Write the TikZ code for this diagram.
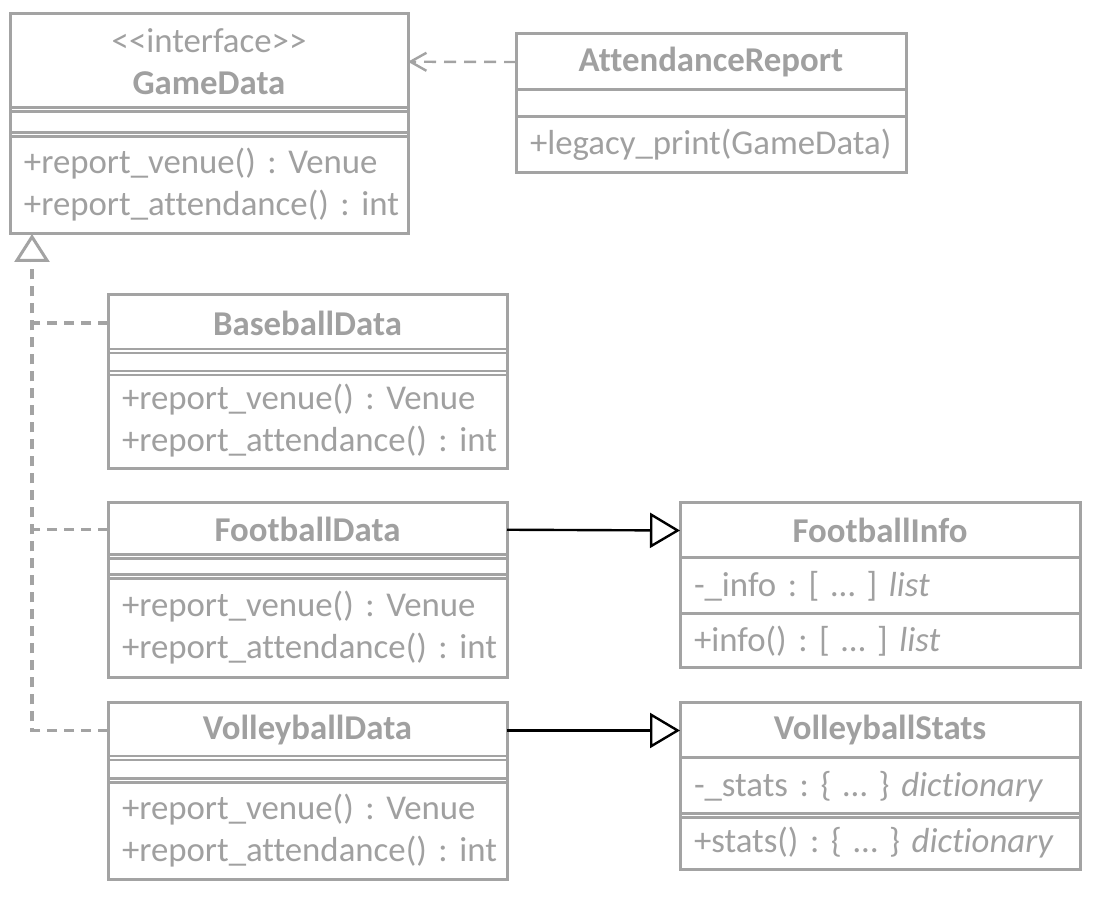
\documentclass[tikz,border=0pt]{standalone}
\usepackage{fontspec}
\setmainfont{Carlito}[Ligatures=NoCommon]
\usetikzlibrary{positioning, arrows.meta}

\definecolor{umlgray}{RGB}{163,163,163}
\definecolor{umltext}{RGB}{160,160,160}
\newcommand{\umlfont}{\fontsize{17.4pt}{21pt}\selectfont}
\frenchspacing

\begin{document}
\begin{tikzpicture}[
    x=0.5pt, y=-0.5pt,
    part/.style={
        draw=umlgray, line width=1.5pt, fill=white, outer sep=0pt,
        inner xsep=7pt, inner ysep=0pt, text=umltext, font=\umlfont
    },
    head/.style={part, font=\umlfont\bfseries},
    members/.style={part, align=left, text width=#1},
    sepline/.style={
        draw=umlgray, line width=1.2pt, double=white, double distance=0.8pt,
        shorten <=0.75pt, shorten >=0.75pt
    },
    dashline/.style={draw=umlgray, line width=1.6pt, dash pattern=on 5pt off 3.5pt},
    realizes/.style={dashline, -{Triangle[open, length=14pt, width=17.5pt, line width=1.5pt]}},
    depends/.style={
        draw=umlgray, line width=1.2pt, dash pattern=on 6pt off 4pt,
        -{Straight Barb[length=8pt, width=9pt, line width=1.2pt]}
    },
    extends/.style={draw=black, line width=1.2pt, -{Triangle[open, length=15pt, width=17.5pt]}}
]

\fill[white] (0,0) rectangle (1100,903);
\useasboundingbox (0,0) rectangle (1100,903);

% -------------------------
% Classes
% -------------------------

% 1. GameData (interface, top left)
\node[part, minimum width=199pt, minimum height=47.75pt, anchor=north west, align=center] (gamedata) at (10,14)
    {\textless\kern0pt\textless interface\textgreater\kern0pt\textgreater\\ \textbf{GameData}};
\node[part, minimum width=199pt, minimum height=12.5pt, below=0pt of gamedata] (gamedata-attr) {};
\node[members=185pt, minimum height=49.75pt, below=0pt of gamedata-attr] (gamedata-ops)
    {+report\_venue()~:~Venue\\+report\_attendance()~:~int};

% 2. AttendanceReport (top right)
\node[head, minimum width=195pt, minimum height=28pt, anchor=north west] (report) at (516,34) {AttendanceReport};
\node[part, minimum width=195pt, minimum height=13.5pt, below=0pt of report] (report-attr) {};
\node[members=181pt, minimum height=28pt, below=0pt of report-attr] (report-ops) {+legacy\_print(GameData)};

% 3. BaseballData
\node[head, minimum width=199.5pt, minimum height=28pt, anchor=north west] (baseball) at (108,295) {BaseballData};
\node[part, minimum width=199.5pt, minimum height=11pt, below=0pt of baseball] (baseball-attr) {};
\node[members=185.5pt, minimum height=48pt, below=0pt of baseball-attr] (baseball-ops)
    {+report\_venue()~:~Venue\\+report\_attendance()~:~int};

% 4. FootballData
\node[head, minimum width=199.5pt, minimum height=26.75pt, anchor=north west] (football) at (108,503) {FootballData};
\node[part, minimum width=199.5pt, minimum height=10pt, below=0pt of football] (football-attr) {};
\node[members=185.5pt, minimum height=50.75pt, below=0pt of football-attr] (football-ops)
    {+report\_venue()~:~Venue\\+report\_attendance()~:~int};

% 5. VolleyballData
\node[head, minimum width=199.5pt, minimum height=27.5pt, anchor=north west] (volleyball) at (108,703) {VolleyballData};
\node[part, minimum width=199.5pt, minimum height=11.25pt, below=0pt of volleyball] (volleyball-attr) {};
\node[members=185.5pt, minimum height=49.75pt, below=0pt of volleyball-attr] (volleyball-ops)
    {+report\_venue()~:~Venue\\+report\_attendance()~:~int};

% 6. FootballInfo
\node[head, minimum width=200pt, minimum height=27.5pt, anchor=north west] (footballinfo) at (680,503) {FootballInfo};
\node[members=186pt, minimum height=28pt, below=0pt of footballinfo] (footballinfo-attr)
    {-\_info~:~[~…~]~\textit{list}};
\node[members=186pt, minimum height=27pt, below=0pt of footballinfo-attr] (footballinfo-ops)
    {+info()~:~[~…~]~\textit{list}};

% 7. VolleyballStats
\node[head, minimum width=200pt, minimum height=27.5pt, anchor=north west] (volleystats) at (680,703) {VolleyballStats};
\node[members=186pt, minimum height=28.75pt, below=0pt of volleystats] (volleystats-attr)
    {-\_stats~:~\{~…~\}~\textit{dictionary}};
\node[members=186pt, minimum height=27.25pt, below=0pt of volleystats-attr] (volleystats-ops)
    {+stats()~:~\{~…~\}~\textit{dictionary}};

% double compartment lines
\foreach \n in {gamedata, gamedata-attr, baseball, baseball-attr, football, football-attr,
                volleyball, volleyball-attr, volleystats-attr}
    \draw[sepline] (\n.south west) -- (\n.south east);

% -------------------------
% Connections
% -------------------------
\coordinate (gdfoot) at ([xshift=11pt]gamedata-ops.south west);

% report -> gamedata (dependency)
\draw[depends] (report.west) -- (gamedata.east);

% data classes -> gamedata (realization)
\draw[realizes] (volleyball.west) -| (gdfoot);
\draw[dashline] (baseball.west) -- (baseball.west -| gdfoot);
\draw[dashline] (football.west) -- (football.west -| gdfoot);

% data classes -> info / stats
\draw[extends] (football.east) -- (footballinfo.west);
\draw[extends] (volleyball.east) -- (volleystats.west);

\end{tikzpicture}
\end{document}
